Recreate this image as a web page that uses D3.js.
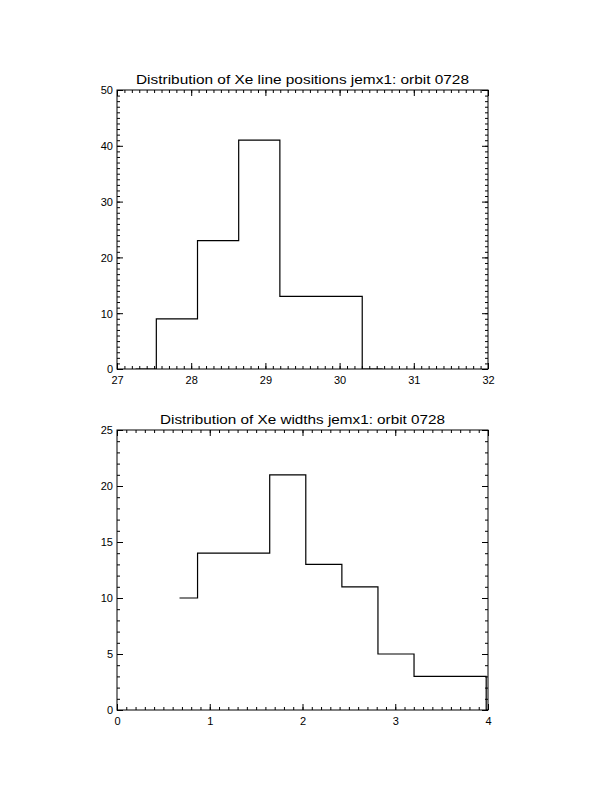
<!DOCTYPE html>
<html>
<head>
<meta charset="utf-8">
<script src="https://cdn.jsdelivr.net/npm/d3@7"></script>
<style>
  html, body { margin: 0; padding: 0; background: #fff; }
  svg { display: block; }
  text { font-family: "Liberation Sans", Arial, sans-serif; fill: #000; }
</style>
</head>
<body>
<svg id="chart" width="612" height="792"></svg>
<script>
// ---- data ----
const topTitle = "Distribution of Xe line positions jemx1: orbit 0728";
const topCenters = [27.25, 27.81, 28.36, 28.92, 29.47, 30.03, 30.58];
const topCounts  = [0, 9, 23, 41, 13, 13, 0];
const topXTicks  = [27, 28, 29, 30, 31, 32];
const topYTicks  = [0, 10, 20, 30, 40, 50];

const botTitle = "Distribution of Xe widths jemx1: orbit 0728";
const botCenters = [0.674, 1.063, 1.452, 1.841, 2.230, 2.619, 3.008, 3.397, 3.786, 4.175];
const botCounts  = [10, 14, 14, 21, 13, 11, 5, 3, 3, 0];
const botXTicks  = [0, 1, 2, 3, 4];
const botYTicks  = [0, 5, 10, 15, 20, 25];

const svg = d3.select("#chart");

function panel(opt) {
  const x = d3.scaleLinear().domain(opt.xDomain).range([opt.left, opt.right]);
  const y = d3.scaleLinear().domain(opt.yDomain).range([opt.bottom, opt.top]);
  const g = svg.append("g");

  const xMinor = d3.range(opt.xDomain[0], opt.xDomain[1] + 1e-9, opt.xMinorStep).map(v => +v.toFixed(6));
  const yMinor = d3.range(opt.yDomain[0], opt.yDomain[1] + 1e-9, opt.yMinorStep).map(v => +v.toFixed(6));

  const majLen = 6, minLen = 3;
  const axes = [
    [d3.axisBottom(x), opt.bottom, "x", true],
    [d3.axisTop(x), opt.top, "x", false],
    [d3.axisLeft(y), opt.left, "y", true],
    [d3.axisRight(y), opt.right, "y", false]
  ];
  axes.forEach(([ax, pos, dir, labels]) => {
    const tr = dir === "x" ? `translate(0,${pos})` : `translate(${pos},0)`;
    const minorAx = (dir === "x"
      ? (labels ? d3.axisBottom(x) : d3.axisTop(x))
      : (labels ? d3.axisLeft(y) : d3.axisRight(y)))
      .tickValues(dir === "x" ? xMinor : yMinor).tickSize(-minLen).tickFormat("");
    const gm = g.append("g").attr("transform", tr).call(minorAx);
    gm.select(".domain").remove();
    gm.selectAll("line").attr("stroke", "#000").attr("stroke-width", 1);
    ax.tickValues(dir === "x" ? opt.xTicks : opt.yTicks).tickSize(-majLen).tickPadding(0)
      .tickFormat(labels ? d3.format("d") : "");
    const ga = g.append("g").attr("transform", tr).call(ax);
    ga.select(".domain").remove();
    ga.selectAll("line").attr("stroke", "#000").attr("stroke-width", 1);
    ga.selectAll("text").style("font-size", "11px").attr("fill", "#000");
    if (labels && dir === "x") {
      ga.selectAll("text").attr("y", 15).attr("dy", null);
    }
    if (labels && dir === "y") {
      ga.selectAll("text").attr("x", -4).attr("dy", "0.35em");
    }
  });

  g.append("rect")
    .attr("x", opt.left).attr("y", opt.top)
    .attr("width", opt.right - opt.left).attr("height", opt.bottom - opt.top)
    .attr("fill", "none").attr("stroke", "#000").attr("stroke-width", 1);

  const cid = "clip" + opt.id;
  svg.append("clipPath").attr("id", cid).append("rect")
    .attr("x", opt.left).attr("y", opt.top)
    .attr("width", opt.right - opt.left).attr("height", opt.bottom - opt.top);

  const line = d3.line().x(d => x(d[0])).y(d => y(d[1])).curve(d3.curveStep);
  const pts = opt.centers.map((c, i) => [c, opt.counts[i]]);
  g.append("path")
    .attr("clip-path", `url(#${cid})`)
    .attr("d", line(pts))
    .attr("fill", "none").attr("stroke", "#000").attr("stroke-width", 1.2);

  g.append("text")
    .attr("x", (opt.left + opt.right) / 2).attr("y", opt.titleY)
    .attr("text-anchor", "middle")
    .style("font-size", "13px")
    .attr("textLength", opt.titleLen).attr("lengthAdjust", "spacingAndGlyphs")
    .text(opt.title);
}

panel({
  id: "top", title: topTitle, titleY: 84, titleLen: 333,
  left: 117, right: 488, top: 90, bottom: 369,
  xDomain: [27, 32], yDomain: [0, 50],
  xTicks: topXTicks, yTicks: topYTicks, xMinorStep: 0.1, yMinorStep: 1,
  centers: topCenters, counts: topCounts
});

panel({
  id: "bot", title: botTitle, titleY: 424, titleLen: 285,
  left: 117, right: 488, top: 430, bottom: 710,
  xDomain: [0, 4], yDomain: [0, 25],
  xTicks: botXTicks, yTicks: botYTicks, xMinorStep: 0.1, yMinorStep: 1,
  centers: botCenters, counts: botCounts
});
</script>
</body>
</html>
